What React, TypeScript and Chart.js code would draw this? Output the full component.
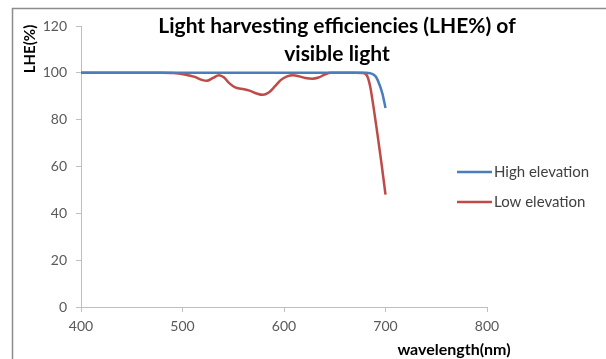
import { useEffect, useRef } from 'react';
import { Chart, registerables } from 'chart.js';
Chart.register(...registerables);

const highX = [400, 450, 500, 550, 600, 650, 675, 681, 685, 688, 691, 694.5, 697, 700];
const highY = [100, 100, 100, 100, 100, 100, 100, 100, 99.8, 99.3, 98, 94.5, 91, 85];

const lowX = [400, 450, 480, 491, 502, 512, 519, 524, 530, 536, 541, 546, 552, 558, 566, 573, 579, 585, 591, 597, 603, 609, 615, 621, 628, 634, 640, 646, 670, 678, 682, 685, 688, 692, 696, 700];
const lowY = [100, 100, 100, 99.9, 99.3, 98.3, 97, 96.6, 97.8, 99, 98, 95.6, 93.8, 93.2, 92.4, 91.2, 90.6, 91.6, 94.2, 97, 98.5, 99, 98.5, 97.8, 97.5, 98, 99.2, 100, 100, 99.9, 98.6, 94, 86, 74, 61.5, 48];

const xTicks = [400, 500, 600, 700, 800];
const yTicks = [0, 20, 40, 60, 80, 100, 120];
const titleLines = ['Light harvesting efficiencies (LHE%) of', 'visible light'];
const yTitle = 'LHE(%)';
const xTitle = 'wavelength(nm)';
const seriesNames = ['High elevation', 'Low elevation'];
const seriesColors = ['#4a7ebb', '#be4b48'];

const FONT = 'Lato, "Open Sans", sans-serif';

const decorPlugin = {
  id: 'decor',
  beforeDraw(chart: any) {
    const ctx = chart.ctx;
    ctx.save();
    ctx.strokeStyle = '#8c8c8c';
    ctx.lineWidth = 1.5;
    ctx.beginPath();
    ctx.moveTo(12.5, 359);
    ctx.lineTo(12.5, 8.5);
    ctx.lineTo(606, 8.5);
    ctx.stroke();
    ctx.restore();
  },
  afterDraw(chart: any) {
    const ctx = chart.ctx;
    ctx.save();
    // title
    ctx.fillStyle = '#000000';
    ctx.textAlign = 'center';
    ctx.textBaseline = 'middle';
    ctx.font = 'bold 21px ' + FONT;
    ctx.fillText(titleLines[0], 337, 26);
    ctx.fillText(titleLines[1], 337, 54);
    // axis titles
    ctx.font = 'bold 15px ' + FONT;
    ctx.save();
    ctx.translate(30, 49);
    ctx.rotate(-Math.PI / 2);
    ctx.fillText(yTitle, 0, 0);
    ctx.restore();
    ctx.font = 'bold 16px ' + FONT;
    ctx.fillText(xTitle, 454, 350);
    // legend
    ctx.textAlign = 'left';
    ctx.font = '15px ' + FONT;
    const rows = [172, 202];
    chart.data.datasets.forEach((ds: any, i: number) => {
      const y = rows[i];
      ctx.strokeStyle = ds.borderColor;
      ctx.lineWidth = 2.5;
      ctx.beginPath();
      ctx.moveTo(457, y);
      ctx.lineTo(492, y);
      ctx.stroke();
      ctx.fillStyle = '#404040';
      ctx.fillText(ds.label, 494, y);
    });
    ctx.restore();
  },
};

export default function App() {
  const ref = useRef<HTMLCanvasElement | null>(null);
  useEffect(() => {
    if (!ref.current) return;
    const chart = new Chart(ref.current, {
      type: 'line',
      data: {
        datasets: [
          {
            label: seriesNames[0],
            data: highX.map((x, i) => ({ x, y: highY[i] })),
            borderColor: seriesColors[0],
            backgroundColor: seriesColors[0],
            borderWidth: 2.5,
            pointRadius: 0,
            cubicInterpolationMode: 'monotone',
          },
          {
            label: seriesNames[1],
            data: lowX.map((x, i) => ({ x, y: lowY[i] })),
            borderColor: seriesColors[1],
            backgroundColor: seriesColors[1],
            borderWidth: 2.5,
            pointRadius: 0,
            cubicInterpolationMode: 'monotone',
          },
        ],
      },
      options: {
        responsive: false,
        animation: false,
        devicePixelRatio: 1,
        layout: { padding: { left: 0, top: 26, right: 119, bottom: 0 } },
        plugins: {
          legend: { display: false },
          title: { display: false },
          tooltip: { enabled: false },
        },
        scales: {
          x: {
            type: 'linear',
            min: 400,
            max: 800,
            afterFit: (s: any) => { s.height = 52; },
            afterBuildTicks: (s: any) => { s.ticks = xTicks.map((v) => ({ value: v })); },
            grid: { drawOnChartArea: false, drawTicks: true, tickLength: 5, color: '#bfbfbf' },
            border: { color: '#bfbfbf', width: 1 },
            ticks: { color: '#595959', font: { family: FONT, size: 14 }, padding: 6, maxRotation: 0 },
          },
          y: {
            type: 'linear',
            min: 0,
            max: 120,
            afterFit: (s: any) => { s.width = 81; },
            afterBuildTicks: (s: any) => { s.ticks = yTicks.map((v) => ({ value: v })); },
            grid: { drawOnChartArea: false, drawTicks: true, tickLength: 5, color: '#bfbfbf' },
            border: { color: '#bfbfbf', width: 1 },
            ticks: { color: '#595959', font: { family: FONT, size: 14 }, padding: 9 },
          },
        },
      },
      plugins: [decorPlugin],
    } as any);
    return () => chart.destroy();
  }, []);
  return (
    <div style={{ position: 'absolute', left: 0, top: 0, width: 606, height: 359, background: '#fff' }}>
      <canvas ref={ref} width={606} height={359} />
    </div>
  );
}
